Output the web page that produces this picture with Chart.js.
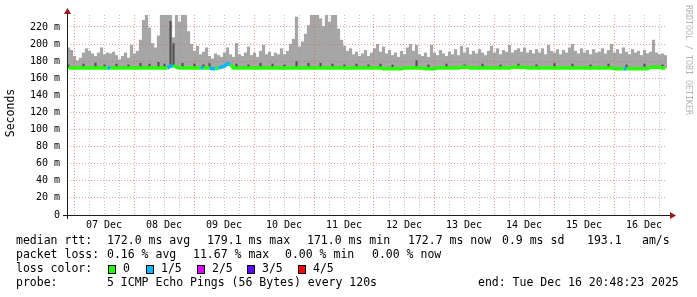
<!DOCTYPE html>
<html>
<head>
<meta charset="utf-8">
<script src="https://cdn.jsdelivr.net/npm/chart.js@4.4.1/dist/chart.umd.min.js"></script>
<style>
  html, body { margin: 0; padding: 0; background: #fff; }
  canvas { display: block; }
</style>
</head>
<body>
<canvas id="chart" width="697" height="297"></canvas>
<script>
// time axis: hours relative to 07 Dec 00:00, one column = 72 min
const START_H = -2.8;
const END_H = 237.2;
const STEP_H = 1.2;

const dayLabels = ['07 Dec', '08 Dec', '09 Dec', '10 Dec', '11 Dec', '12 Dec', '13 Dec', '14 Dec', '15 Dec', '16 Dec'];

// highest ping per column (ms)
const smokeTop = [
  196,193,186,181,184,190,195,192,189,186,190,196,188,190,189,191,187,182,186,190,
  184,199,189,192,205,228,234,219,201,196,210,234,234,234,234,208,234,226,234,234,
  215,200,192,198,188,191,196,186,183,189,187,185,190,196,188,185,201,188,186,190,
  197,187,190,185,192,199,188,191,186,190,188,195,188,192,200,206,232,197,203,212,
  222,234,234,234,230,221,234,226,234,234,218,205,198,192,195,188,191,186,189,193,
  186,190,195,200,191,197,189,193,187,190,185,192,188,196,200,192,199,188,186,190,
  185,199,190,187,193,189,186,191,188,194,187,198,190,196,188,192,189,194,190,187,
  192,198,190,195,188,193,191,199,190,193,195,191,196,190,193,189,194,190,195,188,
  199,192,190,194,188,193,190,196,200,192,189,195,190,193,188,194,190,191,195,189,
  193,200,190,194,189,196,191,188,194,190,192,187,193,189,191,205,190,188,189,187
];

// median rtt per column (ms)
const medianRtt = [
  172,172,172,172,172,172,172,172,172,172,172,172,172,172,172,172,172,172,172,172,
  172,172,172,172,172,172,172,172,172,172,172,172,172,172,174,175,173,172,172,172,
  172,172,172,172,172,172,172,172,171,171,172,173,174,177,176,172,172,172,172,172,
  172,172,172,172,172,172,172,172,172,172,172,172,172,172,172,172,172,172,172,172,
  172,172,172,172,172,172,172,172,172,172,172,172,172,172,172,172,172,172,172,172,
  172,172,172,172,172,171,171,171,171,171,171,171,172,172,172,172,172,172,172,171,
  171,171,171,172,172,172,172,172,172,172,172,173,173,173,172,172,172,172,172,172,
  172,172,172,172,172,172,172,172,173,173,173,173,173,172,172,172,172,172,172,172,
  172,172,172,172,172,172,172,172,172,172,172,172,172,172,172,172,172,172,172,172,
  172,172,171,171,171,171,171,171,171,171,171,171,171,171,173,173,173,173,172,172
];

// inner (darker) smoke band top, only where it shows
const darkTop = {
  0:176, 5:177, 9:178, 12:176, 16:177, 20:176, 24:178, 27:177, 30:179, 32:177,
  34:227, 35:201, 38:178, 42:177, 45:176, 47:178, 56:177, 60:176, 64:178, 68:177,
  72:176, 76:180, 80:178, 84:178, 88:177, 92:176, 96:177, 100:176, 104:177, 108:176,
  116:181, 120:176, 126:177, 132:176, 138:177, 144:176, 150:177, 156:176, 162:178,
  168:177, 174:176, 180:177, 186:176, 192:177, 198:176
};

// columns with lost pings (count out of 5)
const lossAt = { 14:1, 34:1, 35:1, 45:1, 48:1, 49:1, 51:1, 52:1, 53:1, 54:1, 186:1 };
const lossColors = ['#26ff00', '#00b8ff', '#dd00ff', '#5e00ff', '#ff0000'];
const lossNames = ['0', '1/5', '2/5', '3/5', '4/5'];

const rttStats = ['172.0 ms avg', '179.1 ms max', '171.0 ms min', '172.7 ms now', '0.9 ms sd', '193.1', 'am/s'];
const lossStats = ['0.16 % avg', '11.67 % max', '0.00 % min', '0.00 % now'];
const probeText = '5 ICMP Echo Pings (56 Bytes) every 120s';
const endText = 'end: Tue Dec 16 20:48:23 2025';

const colX = smokeTop.map((_, i) => START_H + STEP_H * (i + 0.5));
const smokeData = colX.map((x, i) => ({ x: x, y: [medianRtt[i], smokeTop[i]] }));
const darkData = colX.map((x, i) => ({ x: x, y: darkTop[i] ? [medianRtt[i], darkTop[i]] : null }))
  .filter(d => d.y);
const medianData = colX.map((x, i) => ({ x: x, y: medianRtt[i] }));

const MONO = '"DejaVu Sans Mono", monospace';
const gridGray = 'rgba(150,150,150,0.55)';
const gridRed = 'rgba(220,90,90,0.6)';

const decor = {
  id: 'decor',
  afterDraw(chart) {
    const ctx = chart.ctx;
    const a = chart.chartArea;
    ctx.save();
    // axes
    ctx.strokeStyle = '#1a1a1a';
    ctx.lineWidth = 1;
    ctx.beginPath();
    ctx.moveTo(a.left - 4, Math.round(a.bottom) + 0.5);
    ctx.lineTo(a.right + 4, Math.round(a.bottom) + 0.5);
    ctx.moveTo(Math.round(a.left) + 0.5, a.top - 1);
    ctx.lineTo(Math.round(a.left) + 0.5, a.bottom + 4);
    ctx.stroke();
    // arrow heads
    ctx.fillStyle = '#9c1a1a';
    const ax = Math.round(a.left) + 0.5;
    ctx.beginPath();
    ctx.moveTo(ax - 3.5, a.top - 1);
    ctx.lineTo(ax + 3.5, a.top - 1);
    ctx.lineTo(ax, a.top - 7);
    ctx.fill();
    const ay = Math.round(a.bottom) + 0.5;
    ctx.beginPath();
    ctx.moveTo(a.right + 3, ay - 3.5);
    ctx.lineTo(a.right + 3, ay + 3.5);
    ctx.lineTo(a.right + 9, ay);
    ctx.fill();

    // y title
    ctx.fillStyle = '#000';
    ctx.font = '11.5px ' + MONO;
    ctx.textAlign = 'center';
    ctx.textBaseline = 'middle';
    ctx.save();
    ctx.translate(11, 113);
    ctx.rotate(-Math.PI / 2);
    ctx.fillText('Seconds', 0, 0);
    ctx.restore();

    // watermark
    ctx.save();
    ctx.fillStyle = '#b4b4b4';
    ctx.font = '8.3px ' + MONO;
    ctx.translate(688, 60);
    ctx.rotate(Math.PI / 2);
    ctx.fillText('RRDTOOL / TOBI OETIKER', 0, 0);
    ctx.restore();

    // legend
    ctx.textAlign = 'left';
    ctx.fillStyle = '#000';
    const put = (x, y, s) => ctx.fillText(s, x, y);
    put(16, 241, 'median rtt:');
    [107, 207, 307, 408, 502, 587, 642].forEach((x, i) => put(x, 241, rttStats[i]));
    put(16, 255, 'packet loss:');
    [107, 193, 285, 372].forEach((x, i) => put(x, 255, lossStats[i]));
    put(16, 269, 'loss color:');
    [108, 146, 197, 247, 298].forEach((x, i) => {
      ctx.fillStyle = lossColors[i];
      ctx.fillRect(x, 265, 7, 8);
      ctx.strokeStyle = '#000';
      ctx.strokeRect(x + 0.5, 265.5, 7, 8);
      ctx.fillStyle = '#000';
      put(x + 15, 269, lossNames[i]);
    });
    put(16, 283, 'probe:');
    put(107, 283, probeText);
    put(478, 283, endText);
    ctx.restore();
  }
};

new Chart(document.getElementById('chart').getContext('2d'), {
  type: 'bar',
  data: {
    datasets: [
      {
        type: 'line',
        data: medianData,
        order: 0,
        borderWidth: 3.5,
        pointRadius: 0,
        borderCapStyle: 'butt',
        segment: { borderColor: c => lossColors[lossAt[c.p1DataIndex] || 0] },
        borderColor: lossColors[0]
      },
      {
        data: darkData,
        order: 1,
        backgroundColor: '#505050',
        grouped: false,
        barPercentage: 0.7,
        categoryPercentage: 1
      },
      {
        data: smokeData,
        order: 2,
        backgroundColor: '#a6a6a6',
        grouped: false,
        barPercentage: 1.08,
        categoryPercentage: 1
      }
    ]
  },
  options: {
    responsive: false,
    animation: false,
    layout: { padding: { top: 15, right: 30, left: 0, bottom: 0 } },
    plugins: { legend: { display: false }, tooltip: { enabled: false } },
    scales: {
      x: {
        type: 'linear',
        offset: false,
        min: START_H,
        max: END_H,
        afterBuildTicks: s => {
          const t = [];
          for (let h = 0; h < END_H; h += 6) t.push({ value: h });
          s.ticks = t;
        },
        afterFit: s => { s.height = 82; },
        ticks: {
          autoSkip: false,
          maxRotation: 0,
          padding: 4,
          color: '#000',
          font: { family: MONO, size: 10 },
          callback: v => (v % 24 === 12 ? dayLabels[(v - 12) / 24] : '')
        },
        grid: {
          offset: false,
          drawTicks: false,
          z: 1,
          color: c => (c.tick && c.tick.value % 24 === 0 ? gridRed : gridGray)
        },
        border: { display: false, dash: [1, 2] }
      },
      y: {
        min: 0,
        max: 234,
        afterBuildTicks: s => {
          const t = [];
          for (let v = 0; v <= 230; v += 10) t.push({ value: v });
          s.ticks = t;
        },
        afterFit: s => { s.width = 67; },
        ticks: {
          padding: 7,
          color: '#000',
          font: { family: MONO, size: 10 },
          callback: v => (v % 20 === 0 ? (v === 0 ? '0' : v + ' m') : '')
        },
        grid: {
          drawTicks: false,
          z: 1,
          color: c => {
            const v = c.tick ? c.tick.value : 0;
            if (v === 0) return 'rgba(0,0,0,0)';
            return v % 20 === 0 ? gridRed : gridGray;
          }
        },
        border: { display: false, dash: [1, 2] }
      }
    }
  },
  plugins: [decor]
});
</script>
</body>
</html>
